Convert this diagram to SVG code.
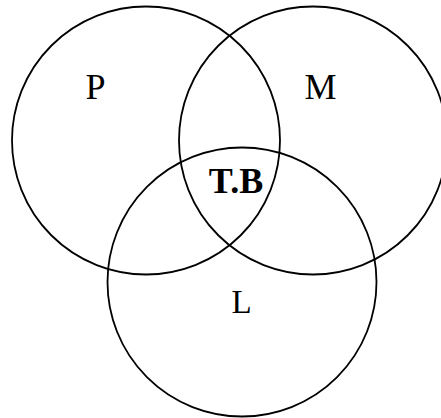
<svg xmlns="http://www.w3.org/2000/svg" width="441" height="418" viewBox="0 0 441 418">
<style>
.c{fill:none;stroke:#000;stroke-width:1.8}
.t{font-family:"Liberation Serif",serif;font-size:36px;fill:#000;text-anchor:middle}
.b{font-weight:bold}
</style>
<rect width="441" height="418" fill="#fff"/>
<g id="P"><circle class="c" cx="146" cy="140.5" r="134"/><text class="t" x="95.5" y="99">P</text></g>
<g id="M"><circle class="c" cx="313" cy="140.5" r="134"/><text class="t" x="320.5" y="99">M</text></g>
<g id="L"><circle class="c" cx="242" cy="282" r="134.5"/><text class="t" x="241.5" y="313" style="font-size:33px">L</text></g>
<g id="TB"><text class="t b" x="236" y="193">T.B</text></g>
<g id="connectors"></g>
</svg>
